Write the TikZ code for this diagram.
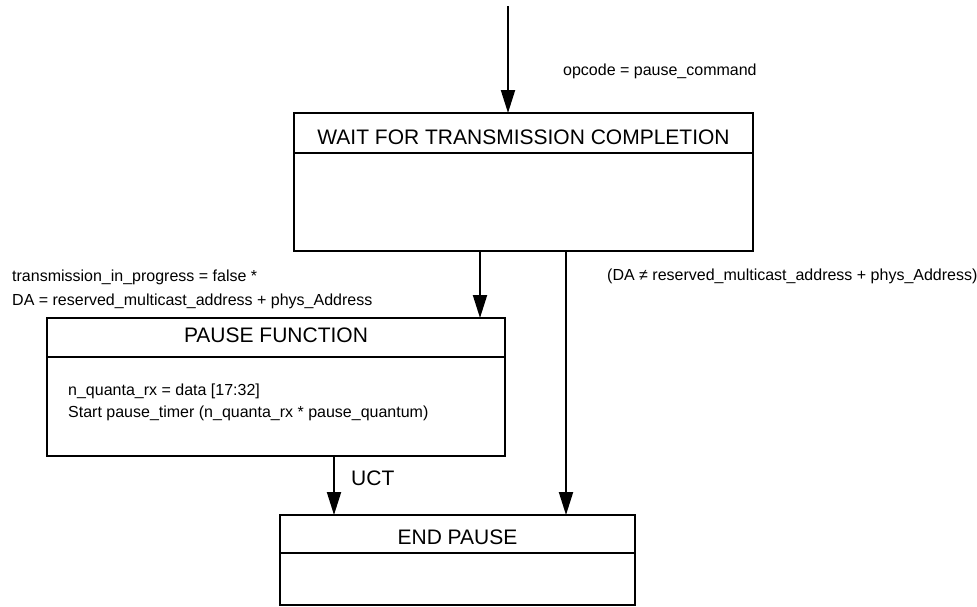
\documentclass[tikz,border=0pt]{standalone}
\usepackage{fontspec}
\setmainfont{Liberation Sans}
\usetikzlibrary{arrows.meta, positioning}
\tikzset{
  state/.style = {
    draw, rectangle, line width=2pt,
    inner sep=0pt, outer sep=0pt
  },
  ttl/.style  = {font=\fontsize{21}{25}\selectfont, inner sep=0pt},
  lbl/.style  = {font=\fontsize{16}{19}\selectfont, inner sep=0pt, anchor=west},
  sep/.style  = {line width=2pt},
  tarr/.style = {-{Triangle[length=23pt,width=14pt]}, line width=2pt}
}

\begin{document}
\begin{tikzpicture}[x=1pt, y=-1pt]
  \useasboundingbox (0,0) rectangle (977,606);

  %% States
  \node[state, minimum width=459pt, minimum height=138pt] (wait)  at (523.5,182) {};
  \node[state, minimum width=458pt, minimum height=138pt] (pause) at (276,387)   {};
  \node[state, minimum width=355pt, minimum height=90pt]  (endp)  at (457.5,560) {};

  %% Title bars
  \draw[sep] ([yshift=-40pt]wait.north west)  -- ([yshift=-40pt]wait.north east);
  \draw[sep] ([yshift=-39pt]pause.north west) -- ([yshift=-39pt]pause.north east);
  \draw[sep] ([yshift=-38pt]endp.north west)  -- ([yshift=-38pt]endp.north east);
  \node[ttl] (waitT)  at (523.5,137)   {WAIT FOR TRANSMISSION COMPLETION};
  \node[ttl] (pauseT) at (276,335.5)   {PAUSE FUNCTION};
  \node[ttl] (endpT)  at (457.5,537.5) {END PAUSE};

  %% State actions
  \node[lbl] (quanta) at (68,391) {n\_quanta\_rx = data [17:32]};
  \node[lbl] (timer)  at (68,413) {Start pause\_timer (n\_quanta\_rx * pause\_quantum)};

  %% Transitions
  \coordinate (entry) at (508,6);
  \coordinate (Xa) at (480,0);
  \coordinate (Xb) at (566,0);
  \coordinate (Xc) at (334,0);
  \draw[tarr] (entry) -- (entry |- wait.north);
  \draw[tarr] (wait.south -| Xa)  -- (pause.north -| Xa);
  \draw[tarr] (wait.south -| Xb)  -- (endp.north -| Xb);
  \draw[tarr] (pause.south -| Xc) -- (endp.north -| Xc);

  %% Conditions
  \node[lbl] (opc)   at (563,71.5) {opcode = pause\_command};
  \node[lbl] (tip)   at (12,277)   {transmission\_in\_progress = false *};
  \node[lbl] (daeq)  at (12,301)   {DA = reserved\_multicast\_address + phys\_Address};
  \node[lbl] (dane)  at (607,276)  {(DA ≠ reserved\_multicast\_address + phys\_Address)};
  \node[ttl, anchor=west] (uct) at (351,478.5) {UCT};
\end{tikzpicture}
\end{document}
